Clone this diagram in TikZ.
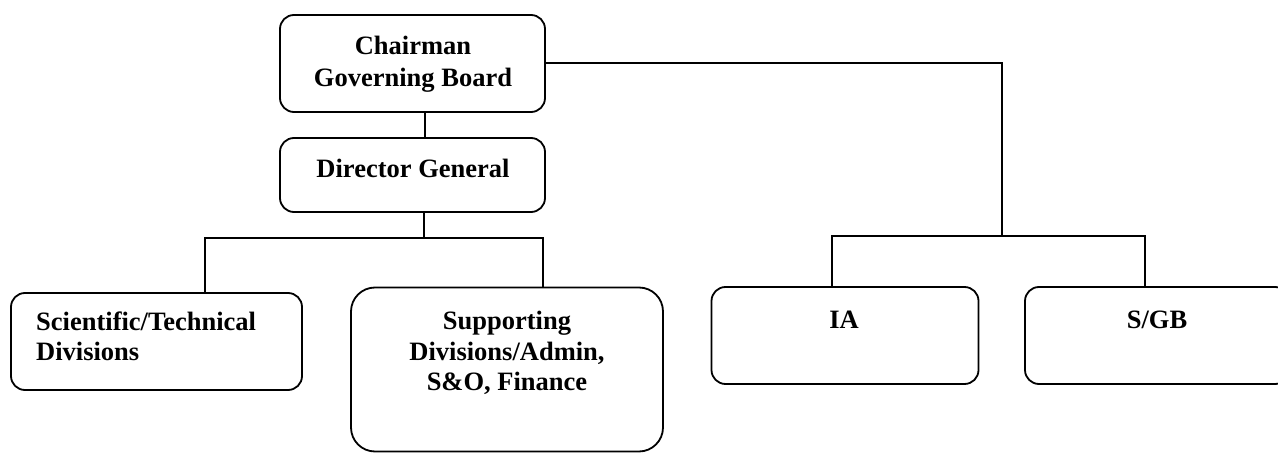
\documentclass[tikz,border=0pt]{standalone}
\usepackage{fontspec}
\setmainfont{Liberation Serif}
\begin{document}
\begin{tikzpicture}[x=1pt,y=-1pt,
  box/.style={draw=black, line width=1.8pt, rounded corners=14pt, inner sep=0pt, fill=white},
  txt/.style={font=\fontsize{26.5}{30}\selectfont\bfseries, inner sep=0pt, align=center},
  conn/.style={draw=black, line width=1.6pt}]
\useasboundingbox (0,0) rectangle (1278,454);
\fill[white] (0,0) rectangle (1278,454);

% boxes
\node[box, minimum width=265pt, minimum height=97pt] (chair) at (412.5,63.5) {};
\node[txt, font=\fontsize{26.5}{32}\selectfont\bfseries] (chairt) at (413,64) {Chairman\\Governing Board};

\node[box, minimum width=265pt, minimum height=74pt] (dg) at (412.5,175) {};
\node[txt] (dgt) at (413,168) {Director General};

\node[box, minimum width=291pt, minimum height=97pt] (sci) at (156.5,341.5) {};
\node[txt, align=left, anchor=west] (scit) at (36,336) {Scientific/Technical\\Divisions};

\node[box, rounded corners=24pt, minimum width=312pt, minimum height=164pt] (sup) at (507,369.5) {};
\node[txt, font=\fontsize{26.5}{30.5}\selectfont\bfseries] (supt) at (507,353) {Supporting\\Divisions/Admin,\\S\&O, Finance};

\node[box, minimum width=267pt, minimum height=97pt] (ia) at (845,335.5) {};
\node[txt] (iat) at (844,320) {IA};

\node[box, minimum width=264pt, minimum height=97pt] (sgb) at (1157,335.5) {};
\node[txt] (sgbt) at (1157,320) {S/GB};

% junction coordinates
\coordinate (cd) at (425,0);
\coordinate (jL) at (424,238);
\coordinate (bS) at (205,238);
\coordinate (bP) at (543,238);
\coordinate (rT) at (1002,63);
\coordinate (rJ) at (1002,236);
\coordinate (bI) at (832,236);
\coordinate (bG) at (1145,236);

% connectors
\draw[conn] (chair.south -| cd) -- (dg.north -| cd);
\draw[conn] (dg.south -| jL) -- (jL);
\draw[conn] (bS |- sci.north) -- (bS) -- (bP) -- (bP |- sup.north);
\draw[conn] (chair.east |- rT) -- (rT) -- (rJ);
\draw[conn] (bI |- ia.north) -- (bI) -- (bG) -- (bG |- sgb.north);
\end{tikzpicture}
\end{document}
